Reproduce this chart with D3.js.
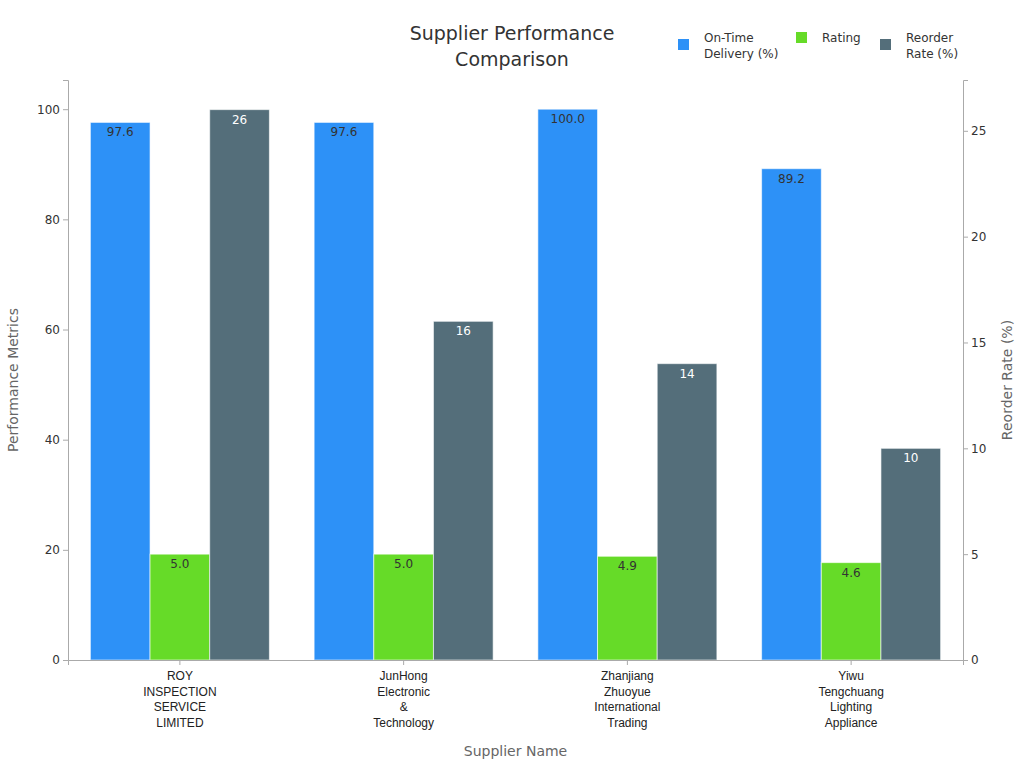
<!DOCTYPE html>
<html><head><meta charset="utf-8">
<script src="https://cdn.jsdelivr.net/npm/d3@7"></script>
<style>body{margin:0;background:#fff;font-family:"DejaVu Sans",sans-serif;}</style>
</head><body>
<script>
const suppliers = [
    ["ROY", "INSPECTION", "SERVICE", "LIMITED"],
    ["JunHong", "Electronic", "&", "Technology"],
    ["Zhanjiang", "Zhuoyue", "International", "Trading"],
    ["Yiwu", "Tengchuang", "Lighting", "Appliance"]
];
const onTime = [97.6, 97.6, 100.0, 89.2];
const rating = [5.0, 5.0, 4.9, 4.6];
const reorder = [26, 16, 14, 10];
const leftTicks = [0, 20, 40, 60, 80, 100];
const rightTicks = [0, 5, 10, 15, 20, 25];

const W = 1024, H = 768;
const m = {left: 68, right: 963, top: 80, bottom: 660};
const svg = d3.select("body").append("svg").attr("width", W).attr("height", H);

const x = d3.scaleBand().domain(d3.range(4)).range([m.left, m.right]).paddingInner(0.2).paddingOuter(0.1);
const yL = d3.scaleLinear().domain([0, 105.3]).range([m.bottom, m.top]);
const yR = d3.scaleLinear().domain([0, 27.4]).range([m.bottom, m.top]);
const bw = x.bandwidth() / 3;

const series = [
    {vals: onTime, y: yL, color: "#2d91f7", fmt: d3.format(".1f"), tc: "#333"},
    {vals: rating, y: yR, color: "#66db28", fmt: d3.format(".1f"), tc: "#333"},
    {vals: reorder, y: yR, color: "#546e7a", fmt: d3.format("d"), tc: "#fff"}
];

series.forEach((s, k) => {
    const g = svg.append("g");
    g.selectAll("rect").data(s.vals).enter().append("rect")
        .attr("x", (d, i) => x(i) + k * bw)
        .attr("y", d => s.y(d))
        .attr("width", bw)
        .attr("height", d => m.bottom - s.y(d))
        .attr("fill", s.color)
        .attr("stroke", "#fff").attr("stroke-opacity", 0.6).attr("stroke-width", 1);
    g.selectAll("text").data(s.vals).enter().append("text")
        .attr("x", (d, i) => x(i) + k * bw + bw / 2)
        .attr("y", d => s.y(d) + 14)
        .attr("text-anchor", "middle")
        .attr("font-size", 12).attr("fill", s.tc)
        .text(d => s.fmt(d));
});

const axL = svg.append("g").attr("transform", `translate(${m.left},0)`)
    .call(d3.axisLeft(yL).tickValues(leftTicks).tickSize(5));
const axR = svg.append("g").attr("transform", `translate(${m.right},0)`)
    .call(d3.axisRight(yR).tickValues(rightTicks).tickSize(5));
const axB = svg.append("g").attr("transform", `translate(0,${m.bottom})`)
    .call(d3.axisBottom(x).tickSize(5).tickFormat(""));
[axL, axR, axB].forEach(a => {
    a.selectAll("path,line").attr("stroke", "#aaa");
    a.selectAll("text").attr("font-size", 12).attr("fill", "#333").attr("font-family", "DejaVu Sans");
});

axB.selectAll(".tick").each(function(d) {
    const t = d3.select(this).append("text").attr("fill", "#222").attr("font-size", 12)
        .attr("text-anchor", "middle").attr("y", 20);
    suppliers[d].forEach((line, j) => t.append("tspan").attr("x", 0).attr("dy", j ? 15.5 : 0).text(line));
});

svg.append("text").attr("x", 512).attr("y", 40).attr("text-anchor", "middle")
    .attr("font-size", 19).attr("fill", "#333").text("Supplier Performance");
svg.append("text").attr("x", 512).attr("y", 66).attr("text-anchor", "middle")
    .attr("font-size", 19).attr("fill", "#333").text("Comparison");

svg.append("text").attr("transform", `translate(18,${(m.top + m.bottom) / 2 + 10}) rotate(-90)`)
    .attr("text-anchor", "middle").attr("font-size", 14).attr("fill", "#666").text("Performance Metrics");
svg.append("text").attr("transform", `translate(1012,${(m.top + m.bottom) / 2 + 10}) rotate(-90)`)
    .attr("text-anchor", "middle").attr("font-size", 14).attr("fill", "#666").text("Reorder Rate (%)");
svg.append("text").attr("x", (m.left + m.right) / 2).attr("y", 756).attr("text-anchor", "middle")
    .attr("font-size", 14).attr("fill", "#666").text("Supplier Name");

const legend = [
    {lines: ["On-Time", "Delivery (%)"], color: "#2d91f7", x: 678, y: 45},
    {lines: ["Rating"], color: "#66db28", x: 796, y: 38},
    {lines: ["Reorder", "Rate (%)"], color: "#546e7a", x: 880, y: 45}
];
legend.forEach(l => {
    svg.append("rect").attr("x", l.x).attr("y", l.y - 6).attr("width", 11).attr("height", 11).attr("fill", l.color);
    const t = svg.append("text").attr("font-size", 12).attr("fill", "#333").attr("y", 42);
    l.lines.forEach((line, j) => t.append("tspan").attr("x", l.x + 26).attr("dy", j ? 15.5 : 0).text(line));
});
</script>
</body></html>
